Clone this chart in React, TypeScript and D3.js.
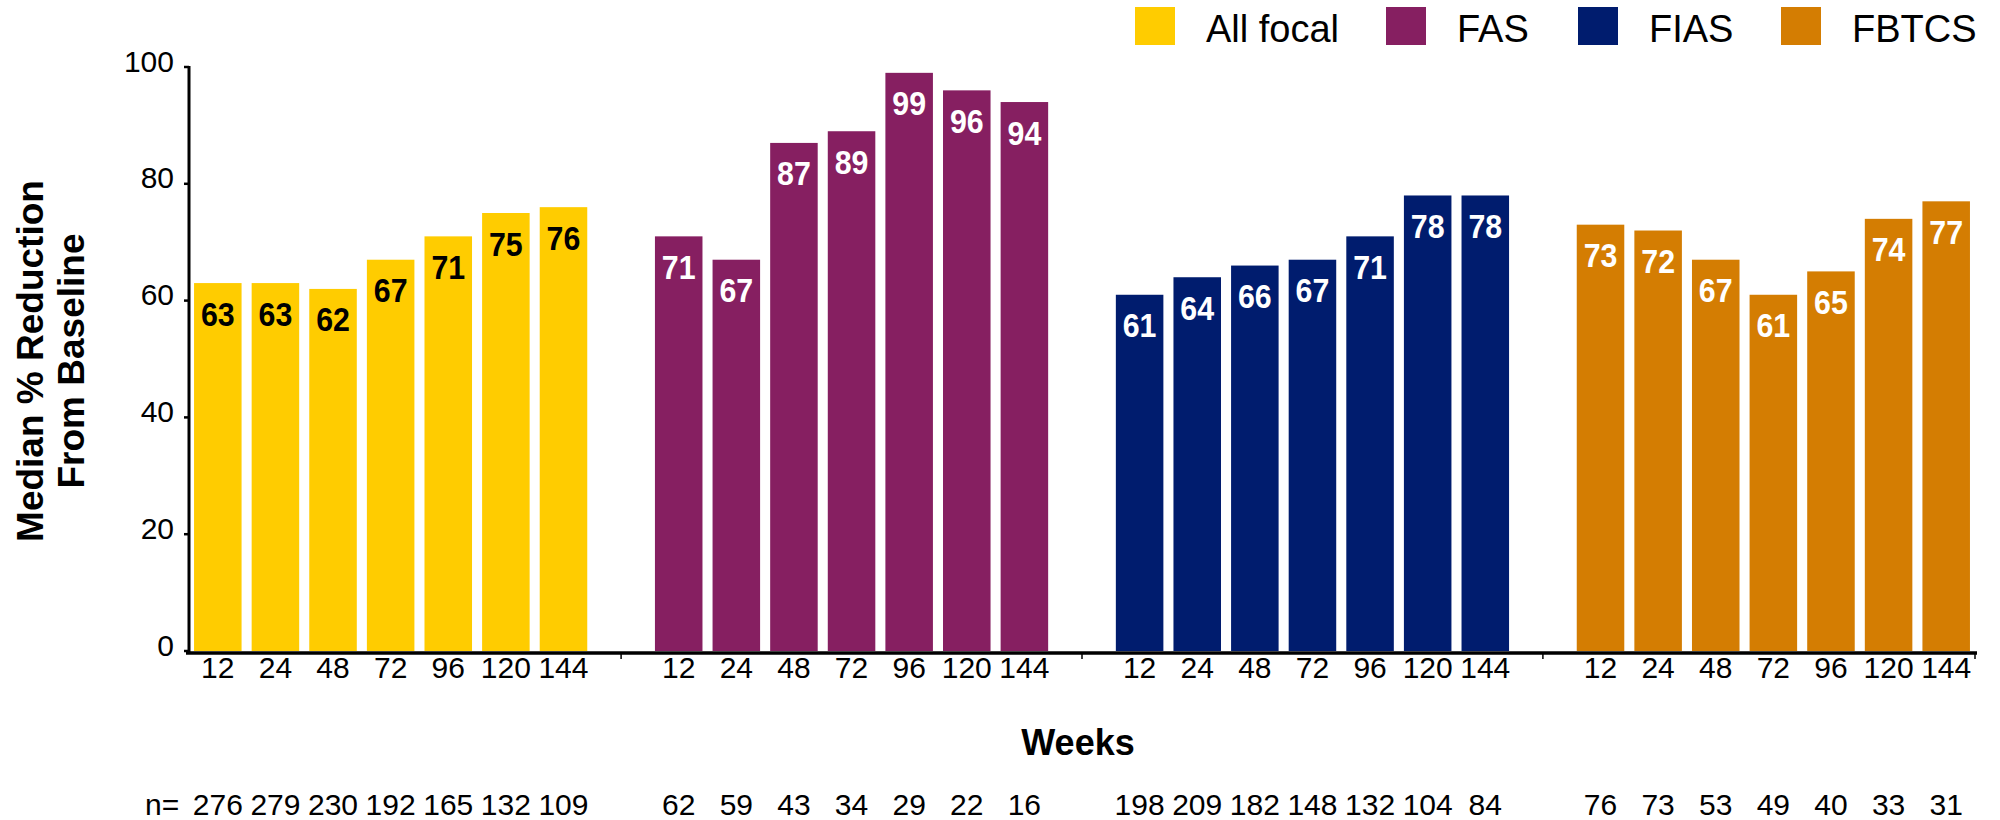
import React from "react";
import * as d3 from "d3";

const groups = ["All focal", "FAS", "FIAS", "FBTCS"];
const colors = ["#FFCC00", "#861F61", "#001C6E", "#D47D02"];
const labelColors = ["#000000", "#FFFFFF", "#FFFFFF", "#FFFFFF"];
const weeks = ["12", "24", "48", "72", "96", "120", "144"];

const allFocal = [63, 63, 62, 67, 71, 75, 76];
const fas = [71, 67, 87, 89, 99, 96, 94];
const fias = [61, 64, 66, 67, 71, 78, 78];
const fbtcs = [73, 72, 67, 61, 65, 74, 77];

const nAllFocal = [276, 279, 230, 192, 165, 132, 109];
const nFas = [62, 59, 43, 34, 29, 22, 16];
const nFias = [198, 209, 182, 148, 132, 104, 84];
const nFbtcs = [76, 73, 53, 49, 40, 33, 31];

const yTicks = [0, 20, 40, 60, 80, 100];

const seriesValues = [allFocal, fas, fias, fbtcs];
const seriesN = [nAllFocal, nFas, nFias, nFbtcs];

const W = 2000;
const H = 820;
const FONT = "Arial, 'Liberation Sans', Helvetica, sans-serif";

type Slot = { key: string; g: number; i: number; blank: boolean };
const slots: Slot[] = [];
groups.forEach((g, gi) => {
  weeks.forEach((w, wi) => slots.push({ key: `${gi}-${wi}`, g: gi, i: wi, blank: false }));
  if (gi < groups.length - 1) slots.push({ key: `gap-${gi}`, g: gi, i: -1, blank: true });
});

const legendX = [1135, 1386, 1578, 1781];

export default function App() {
  const x0 = 189;
  const x1 = 1975;
  const x = d3
    .scaleBand<string>()
    .domain(slots.map((s) => s.key))
    .range([x0, x1])
    .paddingInner(0.175)
    .paddingOuter(0.0875);
  const y = d3.scaleLinear().domain([0, 100]).range([651, 67]);
  const bw = x.bandwidth();
  const center = (k: string) => (x(k) as number) + bw / 2;

  return (
    <svg
      width={W}
      height={H}
      style={{ position: "absolute", left: 0, top: 0, background: "#fff" }}
      fontFamily={FONT}
    >
      <rect x={0} y={0} width={W} height={H} fill="#fff" />

      {/* Legend */}
      {groups.map((g, gi) => (
        <g key={g}>
          <rect x={legendX[gi]} y={7} width={40} height={38} fill={colors[gi]} />
          <text x={legendX[gi] + 71} y={41.7} fontSize={38} fill="#000">
            {g}
          </text>
        </g>
      ))}

      {/* Bars */}
      {slots
        .filter((s) => !s.blank)
        .map((s) => {
          const v = seriesValues[s.g][s.i];
          const top = y(v);
          return (
            <g key={s.key}>
              <rect x={x(s.key)} y={top} width={bw} height={y(0) - top} fill={colors[s.g]} />
              <text
                transform={`translate(${center(s.key)},${top + 42.5}) scale(0.92,1)`}
                textAnchor="middle"
                fontSize={33}
                fontWeight="bold"
                fill={labelColors[s.g]}
              >
                {v}
              </text>
            </g>
          );
        })}

      {/* Y axis */}
      <line x1={x0} x2={x0} y1={y(100) - 1} y2={654} stroke="#000" strokeWidth={3} />
      {yTicks.map((t) => (
        <g key={t}>
          <line x1={x0 - 5} x2={x0} y1={y(t)} y2={y(t)} stroke="#000" strokeWidth={2.5} />
          <text x={174} y={y(t) + 4.5} textAnchor="end" fontSize={30} fill="#000">
            {t}
          </text>
        </g>
      ))}

      {/* X axis */}
      <line x1={x0 - 3} x2={x1 + 2} y1={653} y2={653} stroke="#000" strokeWidth={3.5} />
      {slots
        .filter((s) => s.blank)
        .map((s) => (
          <line
            key={s.key}
            x1={center(s.key)}
            x2={center(s.key)}
            y1={653}
            y2={659}
            stroke="#000"
            strokeWidth={1.5}
          />
        ))}
      <line x1={x1} x2={x1} y1={653} y2={659} stroke="#000" strokeWidth={1.5} />

      {slots
        .filter((s) => !s.blank)
        .map((s) => (
          <text
            key={"t" + s.key}
            x={center(s.key)}
            y={678}
            textAnchor="middle"
            fontSize={30}
            fill="#000"
          >
            {weeks[s.i]}
          </text>
        ))}

      {/* n row */}
      <text x={145} y={815} fontSize={30} fill="#000">
        n=
      </text>
      {slots
        .filter((s) => !s.blank)
        .map((s) => (
          <text
            key={"n" + s.key}
            x={center(s.key)}
            y={815}
            textAnchor="middle"
            fontSize={30}
            fill="#000"
          >
            {seriesN[s.g][s.i]}
          </text>
        ))}

      {/* Axis titles */}
      <text x={1078} y={755} textAnchor="middle" fontSize={36} fontWeight="bold" fill="#000">
        Weeks
      </text>
      <g transform="translate(42.5,361) rotate(-90)">
        <text x={0} y={0} textAnchor="middle" fontSize={37} fontWeight="bold" fill="#000">
          Median % Reduction
        </text>
        <text x={0} y={41.5} textAnchor="middle" fontSize={37} fontWeight="bold" fill="#000">
          From Baseline
        </text>
      </g>
    </svg>
  );
}
